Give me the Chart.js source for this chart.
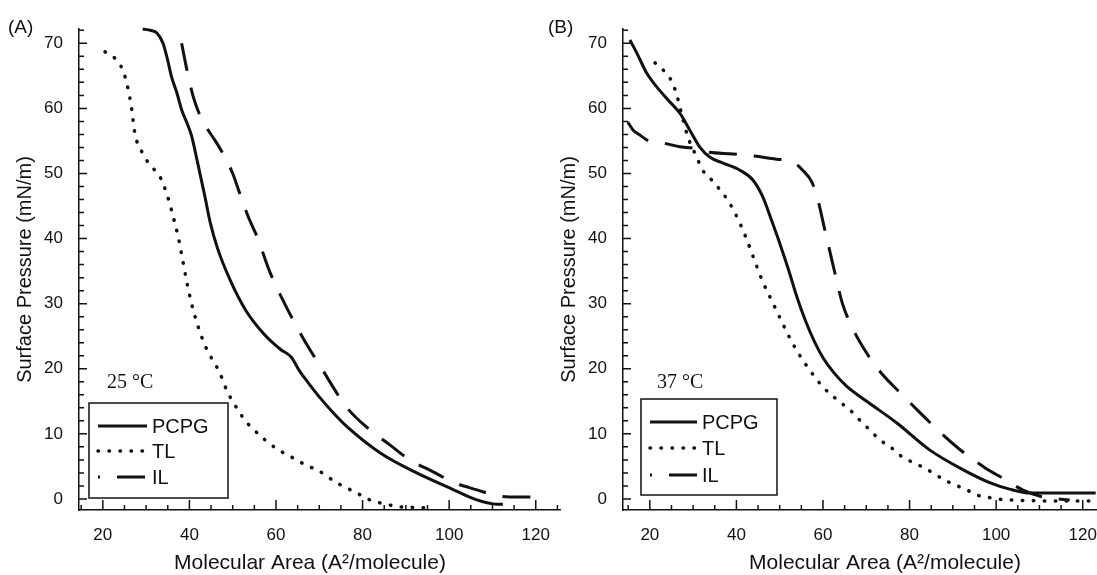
<!DOCTYPE html>
<html>
<head>
<meta charset="utf-8">
<script src="https://cdn.jsdelivr.net/npm/chart.js@4.4.0/dist/chart.umd.min.js"></script>
<style>
  body { margin: 0; background: #fff; }
  #wrap { position: relative; width: 1097px; height: 575px; overflow: hidden; background: #fff; }
  #wrap canvas { position: absolute; top: 0; }
  #chartA { left: 0; }
  #chartB { left: 544px; }
</style>
</head>
<body>
<div id="wrap">
  <canvas id="chartA" width="580" height="575"></canvas>
  <canvas id="chartB" width="575" height="575"></canvas>
</div>
<script>
// Values: molecular area (A^2/molecule) -> surface pressure (mN/m)
const xTicks = [20, 40, 60, 80, 100, 120];
const yTicks = [0, 10, 20, 30, 40, 50, 60, 70];
const seriesLabels = ['PCPG', 'TL', 'IL'];

// (A) 25 °C
const pcpgAreaA = [29.2, 31, 32.5, 33.9, 34.8, 35.9, 37.1, 38.2, 39.6, 40.5, 41.3, 42.4, 43.6, 44.8, 46.5, 49.5, 53, 57, 61, 63.5, 65.5, 67.5, 70.1, 73, 76.4, 84, 92.5, 100.1, 106.4, 111, 112.4];
const pcpgPressA = [72.2, 72.0, 71.6, 70.0, 67.9, 64.8, 62.4, 59.8, 57.5, 55.8, 53.5, 50.1, 46.4, 42.5, 38.5, 33.5, 29, 25.5, 23, 21.8, 19.6, 17.8, 15.6, 13.4, 11.1, 7.1, 4.0, 1.7, -0.15, -0.8, -0.8];
const tlAreaA = [20.5, 22.8, 24.6, 25.8, 26.7, 27.4, 29.2, 30.9, 33.2, 35.0, 36.2, 37.5, 38.5, 39.5, 40.5, 42, 44, 46.3, 47.5, 48.6, 49.8, 51.2, 52.8, 55.1, 57.4, 60.2, 62.5, 64.8, 67.1, 69.4, 74.0, 78.7, 81.7, 84, 88.6, 91.6, 96.2];
const tlPressA = [68.7, 67.7, 65.9, 63.1, 59.8, 56.2, 53.1, 51.3, 49.5, 46.4, 43.5, 40, 36.5, 33, 30, 26.5, 23, 20.3, 18.6, 16.7, 15.2, 13.7, 12.1, 10.5, 9.1, 7.7, 6.8, 6.0, 5.1, 4.5, 2.5, 0.9, -0.15, -0.6, -1.2, -1.3, -1.4];
const ilAreaA = [38.2, 39.4, 40.8, 42.2, 44, 45.8, 47.7, 50, 51.6, 53.5, 55.8, 58.5, 62, 66, 70.6, 76.3, 81.7, 86.3, 90.9, 96.2, 100.8, 106.4, 111, 116.3, 120.5];
const ilPressA = [70.0, 66.0, 62.0, 59.3, 57, 55.2, 53.1, 50, 47, 43.5, 40, 35, 30, 25, 20, 14.1, 10.6, 8.3, 6.0, 4.2, 2.6, 1.4, 0.5, 0.3, 0.3];

// (B) 37 °C
const pcpgAreaB = [15.4, 17.0, 19.3, 21.6, 24.2, 26.9, 29.2, 31.5, 33.9, 36.9, 40.8, 43.8, 46.1, 48, 50, 52, 54, 56, 58, 60, 62.5, 65.5, 70.1, 77.0, 84.7, 92.3, 98.5, 103.1, 107.8, 115.4, 123];
const pcpgPressB = [70.5, 68.5, 65.4, 63.3, 61.3, 59.3, 56.7, 54.1, 52.5, 51.6, 50.5, 49.0, 46.4, 43, 39.3, 35.3, 31, 27.3, 24.2, 21.7, 19.4, 17.3, 15.0, 11.7, 7.5, 4.5, 2.5, 1.5, 0.9, 0.9, 0.9];
const tlAreaB = [21.2, 23.5, 25.1, 26.2, 27.4, 28.8, 30.9, 32.2, 34.3, 36.2, 38.0, 40, 42, 44, 46, 48.5, 51, 53.5, 56.5, 60, 63.9, 66.2, 68.5, 70.8, 73.1, 75.9, 78.2, 80.5, 83.0, 85.4, 88.1, 90.4, 93.2, 95.5, 97.8, 100.1, 103.1, 110, 118, 123];
const tlPressB = [67.0, 65.6, 64.1, 62.1, 59.0, 55.6, 52.4, 50.5, 49.0, 47.5, 45.9, 43.5, 40.5, 37, 33.5, 30, 26.5, 23.3, 20.2, 17.2, 14.9, 13.7, 12.1, 10.6, 9.1, 7.8, 6.5, 5.7, 4.9, 4.0, 2.9, 2.2, 1.4, 0.6, 0.3, 0, -0.15, -0.3, -0.3, -0.3];
const ilAreaB = [14.9, 16.1, 17.7, 19.5, 23.0, 26.9, 29.9, 33.2, 39.2, 43.8, 49.3, 53.0, 55.3, 57.4, 58.8, 60.2, 61.6, 63, 64.5, 67, 70, 73.5, 78, 82.8, 88.1, 91.6, 97.4, 101.5, 106.1, 110.8, 117];
const ilPressB = [57.9, 56.7, 55.9, 55.1, 54.7, 54.1, 53.9, 53.3, 53.0, 52.7, 52.2, 51.8, 50.5, 48.7, 46, 42, 38, 34, 30, 26, 22.5, 19.3, 16.2, 13.0, 9.6, 7.6, 4.8, 3.2, 1.4, 0.3, -0.15];

const ink = '#111';
const sans = '"Liberation Sans", Arial, sans-serif';
Chart.defaults.font.family = sans;
Chart.defaults.color = ink;

function pts(xs, ys) {
    return xs.map((v, i) => ({ x: v, y: ys[i] }));
}

// ticks point into the plot, minor every 5 (x) and every 2 (y)
const inwardTicks = {
    id: 'inwardTicks',
    afterDraw(chart) {
        const { ctx, chartArea: a, scales: { x, y } } = chart;
        ctx.save();
        ctx.strokeStyle = ink;
        ctx.lineWidth = 1.5;
        ctx.beginPath();
        for (let v = Math.ceil(x.min / 5) * 5; v <= x.max; v += 5) {
            const px = x.getPixelForValue(v);
            const len = xTicks.includes(v) ? 10 : 5;
            ctx.moveTo(px, a.bottom);
            ctx.lineTo(px, a.bottom - len);
        }
        for (let v = 0; v <= y.max; v += 2) {
            const py = y.getPixelForValue(v);
            const len = yTicks.includes(v) ? 8 : 5;
            ctx.moveTo(a.left, py);
            ctx.lineTo(a.left + len, py);
        }
        ctx.stroke();
        ctx.restore();
    }
};

// panel letter, temperature, boxed legend and x title
const panelDecor = {
    id: 'panelDecor',
    afterDatasetsDraw(chart, args, o) {
        const ctx = chart.ctx;
        ctx.save();
        ctx.fillStyle = ink;
        ctx.textBaseline = 'middle';
        ctx.font = '19px ' + sans;
        ctx.fillText(o.panel, o.panelX, 28);
        ctx.font = '20px "Liberation Serif", "Times New Roman", serif';
        ctx.fillText(o.temp, o.tempX, 383);

        ctx.font = '21px ' + sans;
        ctx.textAlign = 'center';
        ctx.fillText('Molecular Area (A\u00B2/molecule)', o.titleX, 563);
        ctx.textAlign = 'left';

        const b = o.box;
        ctx.fillStyle = '#fff';
        ctx.fillRect(b[0], b[1], b[2] - b[0], b[3] - b[1]);
        ctx.strokeStyle = ink;
        ctx.lineWidth = 1.5;
        ctx.strokeRect(b[0], b[1], b[2] - b[0], b[3] - b[1]);

        chart.data.datasets.forEach((ds, i) => {
            const yy = o.rows[i];
            ctx.beginPath();
            ctx.lineWidth = ds.borderWidth;
            ctx.lineCap = ds.borderCapStyle || 'butt';
            ctx.setLineDash(ds.borderDash || []);
            ctx.lineDashOffset = ds.legendDashOffset || 0;
            ctx.moveTo(o.sample[0], yy);
            ctx.lineTo(o.sample[1], yy);
            ctx.stroke();
            ctx.setLineDash([]);
            ctx.fillStyle = ink;
            ctx.font = '20px ' + sans;
            ctx.fillText(ds.label, o.textX, yy + 1);
        });
        ctx.restore();
    }
};

function makeChart(id, data, xMin, xMax, padRight, decor) {
    const styles = [
        { borderWidth: 3 },
        { borderWidth: 3.5, borderDash: [0.5, 10.5], borderCapStyle: 'round' },
        { borderWidth: 3, borderDash: [28, 17], legendDashOffset: 26 }
    ];
    return new Chart(document.getElementById(id), {
        type: 'line',
        data: {
            datasets: data.map((d, i) => Object.assign({
                label: seriesLabels[i],
                data: d,
                borderColor: ink,
                pointRadius: 0,
                fill: false,
                cubicInterpolationMode: 'monotone',
                clip: 6
            }, styles[i]))
        },
        options: {
            responsive: false,
            animation: false,
            devicePixelRatio: 1,
            layout: { padding: { left: 13, top: 29, right: padRight, bottom: 0 } },
            plugins: {
                legend: { display: false },
                tooltip: { enabled: false },
                panelDecor: decor
            },
            scales: {
                x: {
                    type: 'linear',
                    min: xMin,
                    max: xMax,
                    grid: { display: false, drawTicks: false },
                    border: { color: ink, width: 1.5 },
                    ticks: { padding: 15, font: { size: 17 }, maxRotation: 0, autoSkip: false },
                    afterBuildTicks: s => { s.ticks = xTicks.map(v => ({ value: v })); },
                    afterFit: s => { s.height = 65; }
                },
                y: {
                    type: 'linear',
                    min: -1.7,
                    max: 72.2,
                    grid: { display: false, drawTicks: false },
                    border: { color: ink, width: 1.5 },
                    ticks: { padding: 16, font: { size: 17 }, autoSkip: false },
                    afterBuildTicks: s => { s.ticks = yTicks.map(v => ({ value: v })); },
                    afterFit: s => { s.width = 66; },
                    title: { display: true, text: 'Surface Pressure (mN/m)', font: { size: 20 }, padding: 0 }
                }
            }
        },
        plugins: [inwardTicks, panelDecor]
    });
}

makeChart('chartA',
    [pts(pcpgAreaA, pcpgPressA), pts(tlAreaA, tlPressA), pts(ilAreaA, ilPressA)],
    14.5, 125.6, 20,
    { panel: '(A)', panelX: 8, temp: '25 \u00B0C', tempX: 107, titleX: 310,
      box: [89, 403, 228, 498], sample: [98, 147], textX: 152, rows: [426, 451, 477] });

makeChart('chartB',
    [pts(pcpgAreaB, pcpgPressB), pts(tlAreaB, tlPressB), pts(ilAreaB, ilPressB)],
    13.8, 123.3, 22,
    { panel: '(B)', panelX: 4, temp: '37 \u00B0C', tempX: 113, titleX: 341,
      box: [97, 399, 233, 495], sample: [106, 153], textX: 158, rows: [422, 448, 475] });
</script>
</body>
</html>
